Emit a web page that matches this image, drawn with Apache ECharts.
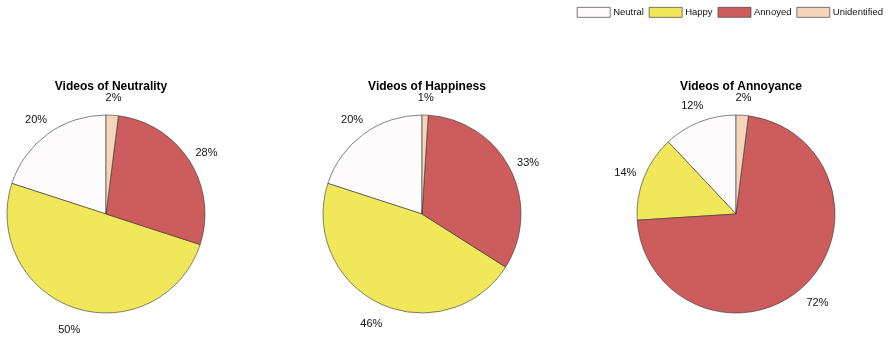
<!DOCTYPE html>
<html>
<head>
<meta charset="utf-8">
<script src="https://cdn.jsdelivr.net/npm/echarts@6/dist/echarts.min.js"></script>
<style>
  html, body { margin: 0; padding: 0; background: #fff; }
  #chart { width: 892px; height: 337px; }
</style>
</head>
<body>
<div id="chart"></div>
<script>
// categories, in the order the slices go round (counter-clockwise from the top)
const categories = ["Neutral", "Happy", "Annoyed", "Unidentified"];
const colors = ["#fdfbfc", "#f0e85a", "#cd5c5c", "#f5d5ba"];
const pieTitles = ["Videos of Neutrality", "Videos of Happiness", "Videos of Annoyance"];

// percentages per pie
const neutralityVideos = [20, 50, 28, 2];
const happinessVideos = [20, 46, 33, 1];
const annoyanceVideos = [12, 14, 72, 2];

const pieValues = [neutralityVideos, happinessVideos, annoyanceVideos];
const centersX = [106, 422, 736];
const radius = 99;

const fontFamily = "'Liberation Sans', Arial, sans-serif";

// put the label centred at the end of the (hidden) label line, like matlab does
const labelLayout = (params) => {
    const pts = params.labelLinePoints;
    if (!pts) return {};
    return { x: pts[1][0], y: pts[1][1] + 2.5, align: "center", verticalAlign: "middle" };
};

const series = pieValues.map((vals, i) => ({
    name: pieTitles[i],
    type: "pie",
    center: [centersX[i], 214],
    radius: radius,
    startAngle: 90,
    clockwise: false,
    avoidLabelOverlap: false,
    animation: false,
    emphasis: { disabled: true },
    itemStyle: { borderColor: "#333", borderWidth: 0.6 },
    label: {
        show: true,
        position: "outside",
        formatter: "{c}%",
        fontSize: 11,
        color: "#111",
        fontFamily
    },
    labelLine: { show: true, length: 20, length2: 0, lineStyle: { opacity: 0 } },
    labelLayout,
    data: categories.map((c, k) => ({
        name: c,
        value: vals[k],
        itemStyle: { color: colors[k] }
    }))
}));

const title = pieTitles.map((t, i) => ({
    text: t,
    left: centersX[i],
    top: 76,
    textAlign: "center",
    textStyle: { fontSize: 12, fontWeight: "bold", color: "#000", fontFamily }
}));

const option = {
    backgroundColor: "#fff",
    title,
    legend: {
        data: categories,
        right: 4,
        top: 2,
        itemWidth: 33,
        itemHeight: 10,
        itemGap: 5,
        selectedMode: false,
        icon: "rect",
        itemStyle: { borderColor: "#444", borderWidth: 0.7 },
        textStyle: { fontSize: 9.5, color: "#111", fontFamily, padding: [0, 0, 0, -2] }
    },
    series
};

const myChart = echarts.init(document.getElementById("chart"), null, { renderer: "canvas" });
myChart.setOption(option);
</script>
</body>
</html>
